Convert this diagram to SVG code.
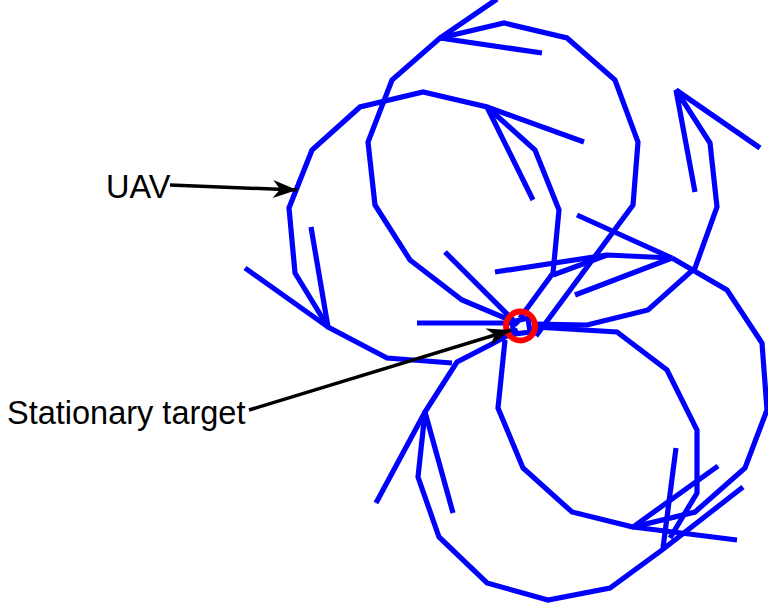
<svg xmlns="http://www.w3.org/2000/svg" width="768" height="606" viewBox="0 0 768 606">
  <style>
    .traj { fill: none; stroke: #0000ff; stroke-width: 5.2; stroke-linejoin: miter; stroke-linecap: butt; }
    .lead { fill: none; stroke: #000000; stroke-width: 3.5; }
    .label { font-family: "Liberation Sans", Arial, sans-serif; font-size: 32.5px; fill: #000000; }
  </style>
  <defs>
    <marker id="head" markerUnits="userSpaceOnUse" markerWidth="30" markerHeight="24" viewBox="-26 -12 30 24" refX="0" refY="0" orient="auto">
      <path d="M 0 0 L -24 -9 L -17 0 L -24 9 Z" fill="#000000"/>
    </marker>
  </defs>
  <rect width="768" height="606" fill="#ffffff"/>

  <!-- flight path of the vehicle around the target -->
  <g id="uav-path">
    <!-- upper loop -->
    <polyline class="traj" points="497,-1 440,38 392,80 368,142 375,205 410,260 462,300 517,323"/>
    <polyline class="traj" points="440,38 504,23 567,38 615,80 638,142 633,205 536,336"/>
    <polyline class="traj" points="440,38 542,53"/>
    <!-- left loop -->
    <polyline class="traj" points="452,363 387,358 328,327 295,273 289,208 312,150 360,107 423,92 487,107 535,150 559,210 553,273 520,318"/>
    <polyline class="traj" points="487,107 584,142"/>
    <polyline class="traj" points="487,107 533,200"/>
    <polyline class="traj" points="328,327 311,227"/>
    <polyline class="traj" points="328,327 245,268"/>
    <polyline class="traj" points="417,323 516,323"/>
    <polyline class="traj" points="445,252 518,325"/>
    <polyline class="traj" points="553,275 607,255"/>
    <!-- headings near the right loop -->
    <polyline class="traj" points="495,272 607,255 672,258"/>
    <polyline class="traj" points="577,215 672,258"/>
    <polyline class="traj" points="575,295 672,258"/>
    <polyline class="traj" points="672,258 727,290 762,343 767,410 745,468 695,512 633,527 572,512 523,468 498,408 505,340"/>
    <!-- far right hook -->
    <polyline class="traj" points="695,192 676,90 710,143 717,207 695,268 648,310 587,325 535,324"/>
    <polyline class="traj" points="676,90 760,148"/>
    <polyline class="traj" points="535,327 617,332 667,370 697,430 697,493 670,538"/>
    <!-- lower loop -->
    <polyline class="traj" points="518,330 490,345 457,362 425,412 418,477 439,537 487,583 548,600 610,588 662,550 743,487"/>
    <polyline class="traj" points="425,412 376,503"/>
    <polyline class="traj" points="425,412 453,513"/>
    <polyline class="traj" points="633,527 737,540"/>
    <polyline class="traj" points="633,527 718,466"/>
    <polyline class="traj" points="676,448 663,548"/>
    <!-- paths crossing inside the target ring -->
    <polyline class="traj" points="512,322 528,318 530,332 514,334 512,322"/>
  </g>

  <!-- stationary target -->
  <g id="target">
    <circle cx="520.5" cy="326" r="14.5" fill="none" stroke="#ff0000" stroke-width="6"/>
  </g>

  <!-- leader lines -->
  <g id="connectors">
    <line class="lead" x1="170" y1="185" x2="297" y2="190" marker-end="url(#head)"/>
    <line class="lead" x1="249" y1="410" x2="511" y2="330" marker-end="url(#head)"/>
  </g>

  <g id="label-uav">
    <text class="label" x="106" y="198">UAV</text>
  </g>
  <g id="label-target">
    <text class="label" x="7" y="424">Stationary target</text>
  </g>
</svg>
